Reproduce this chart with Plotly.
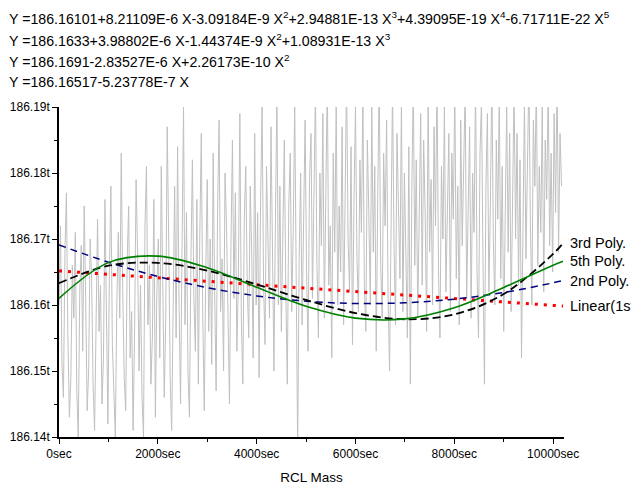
import plotly.graph_objects as go

# ---------------- data ----------------
sample_step_sec = 30
raw_mass = [
    # 0 - 1000 sec
    186.160, 186.172, 186.151, 186.146, 186.168, 186.177, 186.155, 186.143, 186.149, 186.166,
    186.158, 186.171, 186.147, 186.140, 186.162, 186.169, 186.153, 186.175, 186.161, 186.144,
    186.150, 186.170, 186.164, 186.148, 186.141, 186.157, 186.173, 186.156, 186.163, 186.145,
    186.152, 186.176, 186.160, 186.142,
    # 1000 - 2000 sec
    186.165, 186.178, 186.154, 186.147, 186.140, 186.160, 186.171, 186.158, 186.183, 186.162,
    186.149, 186.144, 186.167, 186.175, 186.152, 186.159, 186.141, 186.156, 186.179, 186.168,
    186.150, 186.163, 186.146, 186.140, 186.172, 186.181, 186.157, 186.166, 186.148, 186.155,
    186.176, 186.143, 186.162, 186.170,
    # 2000 - 3000 sec
    186.152, 186.181, 186.166, 186.146, 186.158, 186.187, 186.170, 186.149, 186.141, 186.163,
    186.178, 186.155, 186.184, 186.160, 186.145, 186.169, 186.190, 186.157, 186.174, 186.150,
    186.143, 186.167, 186.182, 186.161, 186.153, 186.176, 186.148, 186.171, 186.186, 186.158,
    186.144, 186.165, 186.179, 186.156,
    # 3000 - 4000 sec
    186.170, 186.151, 186.183, 186.162, 186.147, 186.175, 186.188, 186.159, 186.167, 186.150,
    186.180, 186.172, 186.156, 186.145, 186.169, 186.185, 186.161, 186.177, 186.153, 186.164,
    186.189, 186.158, 186.148, 186.173, 186.181, 186.163, 186.155, 186.178, 186.168, 186.152,
    186.186, 186.160, 186.174, 186.149,
    # 4000 - 5000 sec
    186.176, 186.190, 186.163, 186.154, 186.181, 186.170, 186.158, 186.187, 186.166, 186.150,
    186.173, 186.192, 186.160, 186.178, 186.156, 186.168, 186.185, 186.162, 186.148, 186.175,
    186.183, 186.159, 186.171, 186.191, 186.164, 186.138, 186.167, 186.180, 186.157, 186.172,
    186.188, 186.165, 186.153, 186.179,
    # 5000 - 6000 sec
    186.186, 186.161, 186.174, 186.193, 186.166, 186.155, 186.180, 186.169, 186.189, 186.158,
    186.177, 186.194, 186.163, 186.172, 186.152, 186.183, 186.168, 186.191, 186.160, 186.175,
    186.165, 186.187, 186.157, 186.179, 186.195, 186.170, 186.162, 186.184, 186.154, 186.176,
    186.190, 186.167, 186.159, 186.182,
    # 6000 - 7000 sec
    186.171, 186.192, 186.163, 186.156, 186.185, 186.174, 186.160, 186.190, 186.168, 186.181,
    186.153, 186.176, 186.195, 186.166, 186.158, 186.183, 186.172, 186.188, 186.161, 186.150,
    186.178, 186.193, 186.169, 186.157, 186.186, 186.175, 186.164, 186.191, 186.159, 186.180,
    186.170, 186.155, 186.184, 186.148,
    # 7000 - 8000 sec
    186.177, 186.194, 186.166, 186.182, 186.158, 186.171, 186.189, 186.163, 186.185, 186.174,
    186.156, 186.192, 186.168, 186.179, 186.160, 186.187, 186.172, 186.195, 186.165, 186.155,
    186.181, 186.170, 186.190, 186.162, 186.176, 186.186, 186.159, 186.183, 186.173, 186.193,
    186.164, 186.178, 186.157, 186.188,
    # 8000 - 9000 sec
    186.169, 186.184, 186.193, 186.161, 186.176, 186.187, 186.158, 186.180, 186.171, 186.194,
    186.165, 186.155, 186.183, 186.191, 186.167, 186.148, 186.178, 186.189, 186.162, 186.175,
    186.195, 186.170, 186.160, 186.185, 186.173, 186.192, 186.164, 186.181, 186.156, 186.177,
    186.190, 186.168, 186.186, 186.159,
    # 9000 - 10170 sec
    186.179, 186.193, 186.170, 186.186, 186.163, 186.182, 186.152, 186.175, 186.191, 186.167,
    186.184, 186.195, 186.172, 186.160, 186.188, 186.178, 186.194, 186.166, 186.181, 186.171,
    186.190, 186.162, 186.185, 186.176, 186.193, 186.169, 186.183, 186.165, 186.189, 186.174,
    186.195, 186.168, 186.186, 186.178,
]
raw_time = [i * sample_step_sec for i in range(len(raw_mass))]

fit_time = [0, 1000, 2000, 3000, 4000, 5000, 6000, 7000, 8000, 9000, 10000, 10200]
fit_linear = [186.16517, 186.16465, 186.16412, 186.16360, 186.16307, 186.16255,
              186.16203, 186.16150, 186.16098, 186.16046, 186.15993, 186.15983]
fit_poly2 = [186.16910, 186.16649, 186.16433, 186.16263, 186.16138, 186.16058,
             186.16023, 186.16034, 186.16089, 186.16190, 186.16336, 186.16371]
fit_poly3 = [186.16330, 186.16595, 186.16637, 186.16521, 186.16312, 186.16076,
             186.15878, 186.15784, 186.15858, 186.16166, 186.16774, 186.16937]
fit_poly5 = [186.16101, 186.16642, 186.16741, 186.16565, 186.16268, 186.15980,
             186.15801, 186.15790, 186.15959, 186.16266, 186.16604, 186.16661]

equations = [
    "Y =186.16101+8.21109E-6 X-3.09184E-9 X<sup>2</sup>+2.94881E-13 X<sup>3</sup>+4.39095E-19 X<sup>4</sup>-6.71711E-22 X<sup>5</sup>",
    "Y =186.1633+3.98802E-6 X-1.44374E-9 X<sup>2</sup>+1.08931E-13 X<sup>3</sup>",
    "Y =186.1691-2.83527E-6 X+2.26173E-10 X<sup>2</sup>",
    "Y =186.16517-5.23778E-7 X",
]
fit_labels = ["3rd Poly.", "5th Poly.", "2nd Poly.", "Linear(1st Poly.)"]

FONT = "Liberation Sans, Arial, sans-serif"

fig = go.Figure()
fig.add_trace(go.Scatter(x=raw_time, y=raw_mass, mode="lines",
                         line=dict(color="#c0c0c0", width=1), hoverinfo="skip"))
fig.add_trace(go.Scatter(x=fit_time, y=fit_linear, mode="lines",
                         line=dict(color="#ff0000", width=3, dash="3px,6px")))
fig.add_trace(go.Scatter(x=fit_time, y=fit_poly2, mode="lines",
                         line=dict(color="#000080", width=1.5, dash="7px,5px", shape="spline")))
fig.add_trace(go.Scatter(x=fit_time, y=fit_poly3, mode="lines",
                         line=dict(color="#000000", width=1.8, dash="8px,4px", shape="spline")))
fig.add_trace(go.Scatter(x=fit_time, y=fit_poly5, mode="lines",
                         line=dict(color="#008000", width=1.6, shape="spline")))

# right-side labels at the end of each fit
label_y = [fit_poly3[-1], fit_poly5[-1], fit_poly2[-1], fit_linear[-1]]
for txt, yv in zip(fit_labels, label_y):
    fig.add_annotation(x=1.0, xref="paper", y=yv, yref="y", text=txt,
                       showarrow=False, xanchor="left", yanchor="middle", xshift=4,
                       font=dict(family=FONT, size=14.5, color="black"))

# equations at top
eq_y = [1.2697, 1.2045, 1.1394, 1.0758]
for txt, yv in zip(equations, eq_y):
    fig.add_annotation(x=-0.1030, xref="paper", y=yv, yref="paper", text=txt,
                       showarrow=False, xanchor="left", yanchor="middle",
                       font=dict(family=FONT, size=14.2, color="black"))

fig.update_layout(
    width=631, height=486,
    margin=dict(l=59, r=67, t=107, b=49, autoexpand=False),
    paper_bgcolor="white", plot_bgcolor="white",
    showlegend=False,
    font=dict(family=FONT, size=12, color="black"),
    xaxis=dict(range=[0, 10220], dtick=2000, tick0=0, tickformat="d", ticksuffix="sec",
               automargin=False,
               showgrid=False, zeroline=False, showline=True, linecolor="black",
               linewidth=1.5, ticks="outside", ticklen=5, tickwidth=1, tickcolor="black",
               minor=dict(dtick=1000, ticks="outside", ticklen=3, tickcolor="black", showgrid=False),
               title=dict(text="RCL Mass", font=dict(family=FONT, size=13.5), standoff=12),
               tickfont=dict(family=FONT, size=12)),
    yaxis=dict(range=[186.14, 186.19], dtick=0.01, tick0=186.14, tickformat=".2f",
               ticksuffix="t", automargin=False, showgrid=False, zeroline=False, showline=True,
               linecolor="black", linewidth=1.5, ticks="outside", ticklen=5, tickwidth=1,
               tickcolor="black",
               minor=dict(dtick=0.005, ticks="outside", ticklen=3, tickcolor="black", showgrid=False),
               tickfont=dict(family=FONT, size=12)),
)

fig.write_html(
    "out.html",
    config=dict(displayModeBar=False),
    post_script="document.body.style.margin='0';document.body.style.overflow='hidden';"
                "window.dispatchEvent(new Event('resize'));",
)
